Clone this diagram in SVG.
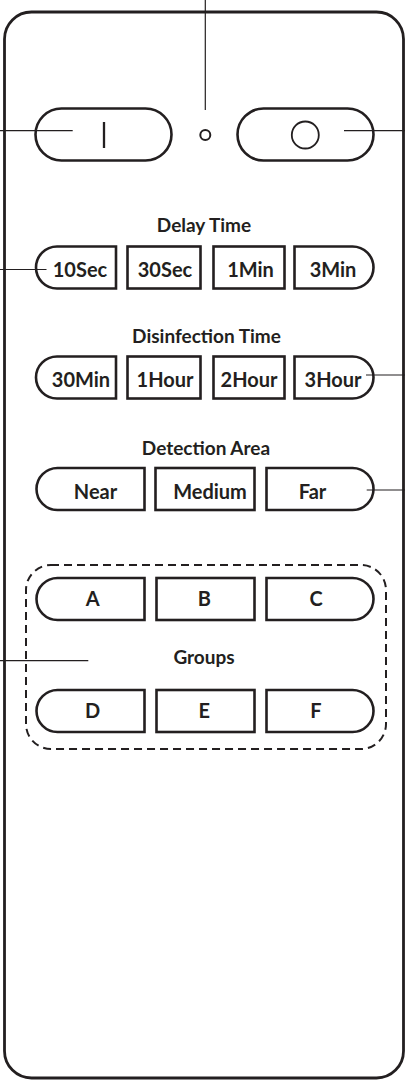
<svg xmlns="http://www.w3.org/2000/svg" width="405" height="1080" viewBox="0 0 405 1080">
<style>
.body{fill:none;stroke:#231f20;stroke-width:2.8}
.btn{fill:none;stroke:#231f20;stroke-width:2.6;stroke-linejoin:miter}
.ln{fill:none;stroke:#231f20;stroke-width:1.2}
.dash{fill:none;stroke:#231f20;stroke-width:2;stroke-dasharray:8 5}
.t{font-family:Lato,"Noto Sans",sans-serif;font-weight:700;font-size:20px;fill:#231f20;text-anchor:middle}
.lab{font-family:Lato,"Noto Sans",sans-serif;font-weight:700;font-size:19px;fill:#231f20;text-anchor:middle}
</style>
<rect width="405" height="1080" fill="#fff"/>
<g id="remote-body"><rect class="body" x="4.5" y="12" width="399" height="1066" rx="27"/></g>
<g id="btn-on"><rect class="btn" x="35.5" y="108.5" width="136" height="52" rx="26"/><line x1="104" y1="122" x2="104" y2="148" stroke="#231f20" stroke-width="2.3"/></g>
<g id="indicator"><circle cx="205.3" cy="135" r="5" fill="none" stroke="#231f20" stroke-width="2"/></g>
<g id="btn-off"><rect class="btn" x="237.5" y="108.5" width="136" height="52" rx="26"/><circle cx="305.3" cy="135" r="13.5" fill="none" stroke="#231f20" stroke-width="1.8"/></g>
<g id="delay-time">
<text class="lab" x="204" y="231.5">Delay Time</text>
<path class="btn" d="M116,246.5 H57 A21,21 0 0 0 57,288.5 H116 Z"/><text class="t" x="80" y="276.7">10Sec</text>
<rect class="btn" x="127.5" y="246.5" width="73" height="42"/><text class="t" x="165" y="276.7">30Sec</text>
<rect class="btn" x="213.5" y="246.5" width="71" height="42"/><text class="t" x="250.5" y="276.7">1Min</text>
<path class="btn" d="M294.5,246.5 H352.5 A21,21 0 0 1 352.5,288.5 H294.5 Z"/><text class="t" x="333" y="276.7">3Min</text>
</g>
<g id="disinfection-time">
<text class="lab" x="206.5" y="342.7">Disinfection Time</text>
<path class="btn" d="M116,356.5 H57 A21,21 0 0 0 57,398.5 H116 Z"/><text class="t" x="81" y="386.7">30Min</text>
<rect class="btn" x="127.5" y="356.5" width="73" height="42"/><text class="t" x="165" y="386.7">1Hour</text>
<rect class="btn" x="213.5" y="356.5" width="71" height="42"/><text class="t" x="249" y="386.7">2Hour</text>
<path class="btn" d="M294.5,356.5 H352.5 A21,21 0 0 1 352.5,398.5 H294.5 Z"/><text class="t" x="333" y="386.7">3Hour</text>
</g>
<g id="detection-area">
<text class="lab" x="206" y="455">Detection Area</text>
<path class="btn" d="M144.5,468 H57.5 A21,21 0 0 0 57.5,510 H144.5 Z"/><text class="t" x="95.5" y="498.5">Near</text>
<rect class="btn" x="155.5" y="468" width="99" height="42"/><text class="t" x="210" y="498.5">Medium</text>
<path class="btn" d="M266.5,468 H352.5 A21,21 0 0 1 352.5,510 H266.5 Z"/><text class="t" x="312.5" y="498.5">Far</text>
</g>
<g id="groups">
<rect class="dash" x="26" y="565" width="360" height="184" rx="25"/>
<text class="lab" x="204" y="664">Groups</text>
<path class="btn" d="M144.5,578 H57.5 A21,21 0 0 0 57.5,620 H144.5 Z"/><text class="t" x="92.7" y="606">A</text>
<rect class="btn" x="156.5" y="578" width="98" height="42"/><text class="t" x="204.3" y="606">B</text>
<path class="btn" d="M266.5,578 H352.5 A21,21 0 0 1 352.5,620 H266.5 Z"/><text class="t" x="316" y="606">C</text>
<path class="btn" d="M144.5,690 H57.5 A21,21 0 0 0 57.5,732 H144.5 Z"/><text class="t" x="92.7" y="718">D</text>
<rect class="btn" x="156.5" y="690" width="98" height="42"/><text class="t" x="204.3" y="718">E</text>
<path class="btn" d="M266.5,690 H352.5 A21,21 0 0 1 352.5,732 H266.5 Z"/><text class="t" x="316" y="718">F</text>
</g>
<g id="connectors">
<line class="ln" x1="205.3" y1="0" x2="205.3" y2="110"/>
<line class="ln" x1="0" y1="130.7" x2="72.7" y2="130.7"/>
<line class="ln" x1="344" y1="130.7" x2="405" y2="130.7"/>
<line class="ln" x1="0" y1="269.5" x2="46.5" y2="269.5"/>
<line class="ln" x1="366" y1="375" x2="405" y2="375"/>
<line class="ln" x1="366.7" y1="490" x2="405" y2="490"/>
<line class="ln" x1="0" y1="660.7" x2="88.3" y2="660.7"/>
</g>
</svg>
